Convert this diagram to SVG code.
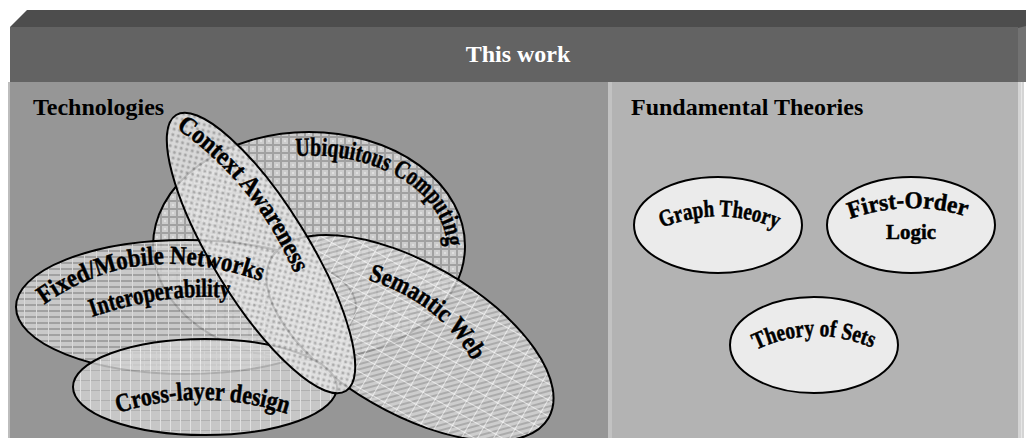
<svg xmlns="http://www.w3.org/2000/svg" width="1026" height="438" viewBox="0 0 1026 438">
  <style>
    .head { font-family: "Liberation Serif", "Times New Roman", serif; font-weight: bold; font-size: 24px; }
    .title { fill: #ffffff; }
    .lbl { font-family: "Liberation Serif", "Times New Roman", serif; font-weight: bold; fill: #000000; stroke: #000000; stroke-width: 0.5; }
    .big { font-size: 26px; }
    .small { font-size: 24px; }
    .set { stroke: #000000; stroke-width: 2; fill-opacity: 0.82; }
    .theory { fill: #ebebeb; stroke: #000000; stroke-width: 2; }
  </style>
  <defs>
    <!-- plaid grid -->
    <pattern id="pUbi" width="8" height="8" patternUnits="userSpaceOnUse">
      <rect width="8" height="8" fill="#d8d8d8"/>
      <rect width="8" height="2" fill="#a4a4a4"/>
      <rect width="2" height="8" fill="#a4a4a4"/>
      <rect x="4" y="4" width="2" height="2" fill="#eeeeee"/>
    </pattern>
    <!-- staggered dots -->
    <pattern id="pCtx" width="8" height="8" patternUnits="userSpaceOnUse">
      <rect width="8" height="8" fill="#e6e6e6"/>
      <circle cx="2" cy="2" r="1.6" fill="#a8a8a8"/>
      <circle cx="6" cy="6" r="1.6" fill="#a8a8a8"/>
    </pattern>
    <!-- horizontal bars -->
    <pattern id="pFix" width="12" height="6" patternUnits="userSpaceOnUse">
      <rect width="12" height="6" fill="#d4d4d4"/>
      <rect y="4" width="12" height="2" fill="#a3a3a3"/>
      <rect width="1" height="6" fill="#e8e8e8"/>
    </pattern>
    <!-- fine grid -->
    <pattern id="pCross" width="10" height="10" patternUnits="userSpaceOnUse">
      <rect width="10" height="10" fill="#d2d2d2"/>
      <rect width="10" height="1" fill="#b6b6b6"/>
      <rect width="1" height="10" fill="#f0f0f0"/>
    </pattern>
    <!-- diagonal hatch -->
    <pattern id="pSem" width="5" height="5" patternUnits="userSpaceOnUse" patternTransform="rotate(45)">
      <rect width="5" height="5" fill="#d9d9d9"/>
      <rect width="2" height="5" fill="#b0b0b0"/>
    </pattern>
    <pattern id="pSemGrid" width="14" height="14" patternUnits="userSpaceOnUse">
      <rect width="14" height="1" fill="#ffffff" fill-opacity="0.6"/>
      <rect width="1" height="14" fill="#ffffff" fill-opacity="0.6"/>
    </pattern>

    <!-- label baselines -->
    <path id="tpUbi" d="M 296,156 A 136 92 0 0 1 446,256"/>
    <path id="tpCtx" d="M 176,128 Q 254,182 294,272"/>
    <path id="tpFix" d="M 44,305 Q 140,236 266,283"/>
    <path id="tpInt" d="M 92,317 Q 165,292 232,298"/>
    <path id="tpCross" d="M 118,413 Q 202,386 288,414"/>
    <path id="tpSem" d="M 368,280 Q 441,302 476,367"/>
    <path id="tpGraph" d="M 662,228 Q 720,204 780,230"/>
    <path id="tpFol" d="M 850,219 Q 910,198 968,217"/>
    <path id="tpSets" d="M 756,350 Q 815,322 877,350"/>
  </defs>

  <!-- frame -->
  <g id="frame">
    <polygon points="10,27 27,10 1026,10 1026,28 10,28" fill="#4d4d4d"/>
    <rect x="10" y="27" width="1008" height="55" fill="#636363"/>
    <polygon points="1018,28 1026,26 1026,82 1018,82" fill="#727272"/>
    <rect x="8" y="82" width="2" height="356" fill="#bdbdbd"/>
    <rect x="10" y="82" width="598" height="356" fill="#969696"/>
    <rect x="608" y="82" width="4" height="356" fill="#c2c2c2"/>
    <rect x="612" y="82" width="406" height="356" fill="#b3b3b3"/>
    <rect x="1018" y="82" width="6" height="356" fill="#d4d4d4"/>
    <rect x="1021" y="82" width="1" height="356" fill="#e6e6e6"/>
    <text class="head title" x="518" y="62" text-anchor="middle">This work</text>
    <text class="head" x="33" y="115">Technologies</text>
    <text class="head" x="631" y="115">Fundamental Theories</text>
  </g>

  <!-- technology sets -->
  <g id="ubiquitous">
    <ellipse class="set" cx="309" cy="246" rx="156" ry="114" fill="url(#pUbi)"/>
  </g>
  <g id="fixed-mobile">
    <ellipse class="set" cx="186" cy="307" rx="170" ry="67" fill="url(#pFix)"/>
  </g>
  <g id="semantic-web">
    <ellipse class="set" cx="410" cy="338" rx="160" ry="75" transform="rotate(30 410 338)" fill="url(#pSem)"/>
    <ellipse cx="410" cy="338" rx="159" ry="74" transform="rotate(30 410 338)" fill="url(#pSemGrid)"/>
  </g>
  <g id="cross-layer">
    <ellipse class="set" cx="205" cy="387" rx="132" ry="48" fill="url(#pCross)"/>
  </g>
  <g id="context-awareness">
    <ellipse class="set" cx="261" cy="253" rx="162" ry="48" transform="rotate(58.4 261 253)" fill="url(#pCtx)"/>
  </g>

  <!-- technology labels -->
  <g id="tech-labels">
    <text class="lbl big"><textPath href="#tpUbi" textLength="194" lengthAdjust="spacingAndGlyphs">Ubiquitous Computing</textPath></text>
    <text class="lbl big"><textPath href="#tpCtx" textLength="190" lengthAdjust="spacingAndGlyphs">Context Awareness</textPath></text>
    <text class="lbl big"><textPath href="#tpFix" textLength="228" lengthAdjust="spacingAndGlyphs">Fixed/Mobile Networks</textPath></text>
    <text class="lbl big"><textPath href="#tpInt" textLength="140" lengthAdjust="spacingAndGlyphs">Interoperability</textPath></text>
    <text class="lbl big"><textPath href="#tpCross" textLength="172" lengthAdjust="spacingAndGlyphs">Cross-layer design</textPath></text>
    <text class="lbl big"><textPath href="#tpSem" textLength="136" lengthAdjust="spacingAndGlyphs">Semantic Web</textPath></text>
  </g>

  <!-- theories -->
  <g id="graph-theory">
    <ellipse class="theory" cx="718" cy="225" rx="84" ry="48"/>
    <text class="lbl small"><textPath href="#tpGraph" textLength="118" lengthAdjust="spacingAndGlyphs">Graph Theory</textPath></text>
  </g>
  <g id="first-order-logic">
    <ellipse class="theory" cx="911" cy="225" rx="84" ry="48"/>
    <text class="lbl small"><textPath href="#tpFol" textLength="118" lengthAdjust="spacingAndGlyphs">First-Order</textPath></text>
    <text class="lbl" style="font-size:22px" x="911" y="239" text-anchor="middle" textLength="50" lengthAdjust="spacingAndGlyphs">Logic</text>
  </g>
  <g id="theory-of-sets">
    <ellipse class="theory" cx="814" cy="345" rx="84" ry="48"/>
    <text class="lbl small"><textPath href="#tpSets" textLength="120" lengthAdjust="spacingAndGlyphs">Theory of Sets</textPath></text>
  </g>

  <g id="connectors"/>
</svg>
